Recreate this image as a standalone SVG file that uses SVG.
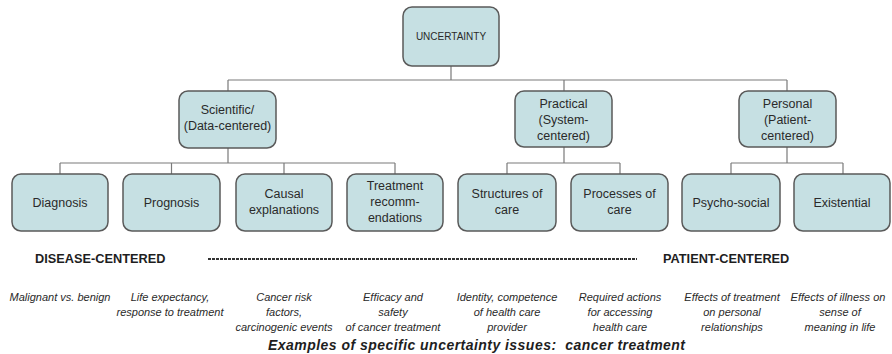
<svg xmlns="http://www.w3.org/2000/svg" width="892" height="354" viewBox="0 0 892 354">
  <style>
    .box { fill: #c6e0e3; stroke: #5a5a5a; stroke-width: 1.5; }
    .lbl { font-family: "Liberation Sans", Arial, sans-serif; font-size: 12.5px; fill: #2a2a2a; text-anchor: middle; }
    .top { font-size: 10px; }
    .link { fill: none; stroke: #7a7a7a; stroke-width: 1.2; }
    .axis { font-family: "Liberation Sans", Arial, sans-serif; font-size: 12.75px; font-weight: bold; fill: #1e1e1e; }
    .ex { font-family: "Liberation Sans", Arial, sans-serif; font-size: 11px; font-style: italic; fill: #2a2a2a; text-anchor: middle; }
    .foot { font-family: "Liberation Sans", Arial, sans-serif; font-size: 14px; font-weight: bold; font-style: italic; fill: #1e1e1e; white-space: pre; }
  </style>

  <!-- tree connectors -->
  <g id="connectors" class="link">
    <path d="M451 66 V80 M228 80 H787 M228 80 V91 M564 80 V91 M787 80 V91"/>
    <path d="M228 148 V163 M60 163 H395 M60 163 V174 M171.5 163 V174 M284 163 V174 M395 163 V174"/>
    <path d="M564 147 V163 M507 163 H620 M507 163 V174 M620 163 V174"/>
    <path d="M787 147 V163 M731 163 H843 M731 163 V174 M843 163 V174"/>
  </g>

  <!-- root -->
  <g id="uncertainty">
    <rect class="box" x="403" y="7" width="96" height="59" rx="9"/>
    <text class="lbl top" x="451" y="40">UNCERTAINTY</text>
  </g>

  <!-- second level -->
  <g id="scientific">
    <rect class="box" x="179" y="91" width="97" height="57" rx="9"/>
    <text class="lbl" x="227.5" y="114">Scientific/</text>
    <text class="lbl" x="227.5" y="130">(Data-centered)</text>
  </g>
  <g id="practical">
    <rect class="box" x="515" y="91" width="97" height="56" rx="9"/>
    <text class="lbl" x="563.5" y="108">Practical</text>
    <text class="lbl" x="563.5" y="124">(System-</text>
    <text class="lbl" x="563.5" y="140">centered)</text>
  </g>
  <g id="personal">
    <rect class="box" x="739" y="91" width="97" height="56" rx="9"/>
    <text class="lbl" x="787.5" y="108">Personal</text>
    <text class="lbl" x="787.5" y="124">(Patient-</text>
    <text class="lbl" x="787.5" y="140">centered)</text>
  </g>

  <!-- third level -->
  <g id="diagnosis">
    <rect class="box" x="12" y="174" width="96" height="57" rx="9"/>
    <text class="lbl" x="60" y="206.5">Diagnosis</text>
  </g>
  <g id="prognosis">
    <rect class="box" x="123" y="174" width="97" height="57" rx="9"/>
    <text class="lbl" x="171.5" y="206.5">Prognosis</text>
  </g>
  <g id="causal">
    <rect class="box" x="236" y="174" width="96" height="57" rx="9"/>
    <text class="lbl" x="284" y="198">Causal</text>
    <text class="lbl" x="284" y="214">explanations</text>
  </g>
  <g id="treatment">
    <rect class="box" x="347" y="174" width="96" height="57" rx="9"/>
    <text class="lbl" x="395" y="190">Treatment</text>
    <text class="lbl" x="395" y="206">recomm-</text>
    <text class="lbl" x="395" y="222">endations</text>
  </g>
  <g id="structures">
    <rect class="box" x="458" y="174" width="98" height="57" rx="9"/>
    <text class="lbl" x="507" y="198">Structures of</text>
    <text class="lbl" x="507" y="214">care</text>
  </g>
  <g id="processes">
    <rect class="box" x="571" y="174" width="97" height="57" rx="9"/>
    <text class="lbl" x="619.5" y="198">Processes of</text>
    <text class="lbl" x="619.5" y="214">care</text>
  </g>
  <g id="psychosocial">
    <rect class="box" x="682" y="174" width="98" height="57" rx="9"/>
    <text class="lbl" x="731" y="206.5">Psycho-social</text>
  </g>
  <g id="existential">
    <rect class="box" x="794" y="174" width="96" height="57" rx="9"/>
    <text class="lbl" x="842" y="206.5">Existential</text>
  </g>

  <!-- disease / patient axis -->
  <g id="axis">
    <text class="axis" x="35" y="263">DISEASE-CENTERED</text>
    <line x1="208" y1="259" x2="637" y2="259" stroke="#333" stroke-width="1.8" stroke-dasharray="3 1"/>
    <text class="axis" x="663" y="263">PATIENT-CENTERED</text>
  </g>

  <!-- example issues -->
  <g id="examples">
    <text class="ex" x="60" y="301">Malignant vs. benign</text>
    <text class="ex" x="170" y="301">Life expectancy,</text>
    <text class="ex" x="170" y="316">response to treatment</text>
    <text class="ex" x="284" y="301">Cancer risk</text>
    <text class="ex" x="284" y="316">factors,</text>
    <text class="ex" x="284" y="331">carcinogenic events</text>
    <text class="ex" x="393" y="301">Efficacy and</text>
    <text class="ex" x="393" y="316">safety</text>
    <text class="ex" x="393" y="331">of cancer treatment</text>
    <text class="ex" x="507" y="301">Identity, competence</text>
    <text class="ex" x="507" y="316">of health care</text>
    <text class="ex" x="507" y="331">provider</text>
    <text class="ex" x="620" y="301">Required actions</text>
    <text class="ex" x="620" y="316">for accessing</text>
    <text class="ex" x="620" y="331">health care</text>
    <text class="ex" x="732" y="301">Effects of treatment</text>
    <text class="ex" x="732" y="316">on personal</text>
    <text class="ex" x="732" y="331">relationships</text>
    <text class="ex" x="838" y="301">Effects of illness on</text>
    <text class="ex" x="840" y="316">sense of</text>
    <text class="ex" x="840" y="331">meaning in life</text>
  </g>

  <text id="caption" class="foot" x="268" y="350" textLength="417" lengthAdjust="spacing">Examples of specific uncertainty issues:  cancer treatment</text>
</svg>
